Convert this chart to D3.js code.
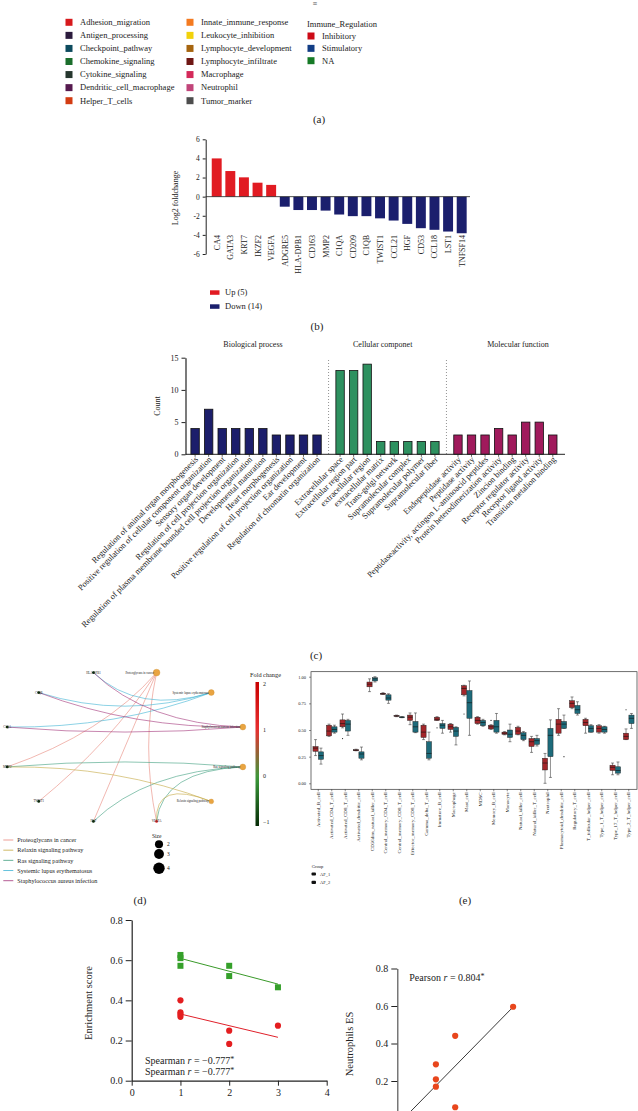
<!DOCTYPE html>
<html><head><meta charset="utf-8">
<script src="https://cdn.jsdelivr.net/npm/d3@7"></script>
<style>
html,body{margin:0;padding:0;background:#fff;}
svg{display:block;font-family:"Liberation Serif","Times New Roman",serif;}
</style></head><body>
<svg id="c" width="638" height="1111"></svg>
<script>
// ---------- (a) legend ----------
const legendCats = ["Adhesion_migration","Antigen_processing","Checkpoint_pathway","Chemokine_signaling","Cytokine_signaling","Dendritic_cell_macrophage","Helper_T_cells","Innate_immune_response","Leukocyte_inhibition","Lymphocyte_development","Lymphocyte_infiltrate","Macrophage","Neutrophil","Tumor_marker"];
const legendColors = ["#d7191c","#2b1b3d","#0d4b5e","#1b6e2c","#26372e","#561a4f","#d33c12","#f47a20","#f2d20a","#a6650f","#6f1714","#d42a5a","#c1457a","#4d4d4d"];
const immuneRegs = ["Inhibitory","Stimulatory","NA"];
const immuneRegColors = ["#cc0a16","#123d85","#167a26"];

// ---------- (b) ----------
const genes = ["CA4","GATA3","KRT7","IKZF2","VEGFA","ADGRE5","HLA-DPB1","CD163","MMP2","C1QA","CD209","C1QB","TWIST1","CCL21","HGF","CD53","CCL18","LST1","TNFSF14"];
const log2fc = [4.0,2.68,2.02,1.46,1.23,-1.05,-1.4,-1.4,-1.46,-1.87,-2.04,-2.04,-2.27,-2.5,-2.85,-3.3,-3.47,-3.65,-3.83];
const bTicks = [-6,-4,-2,0,2,4,6];
const bLegend = ["Up (5)","Down (14)"];

// ---------- (c) ----------
const goGroups = ["Biological process","Cellular componet","Molecular function"];
const bpTerms = ["Regulation of animal organ morphogenesis","Positive regulation of cellular component organization","Sensory organ development","Regulation of cell projection organization","Regulation of plasma membrane bounded cell projection organization","Developmental maturation","Heart morphogenesis","Positive regulation of cell projection organization","Ear development","Regulation of chromatin organization"];
const bpCounts = [4,7,4,4,4,4,3,3,3,3];
const ccTerms = ["Extracellular space","Extracellular region part","extracellular region","extracellular matrix","Trans-golgi network","Supramolecular complex","Supramolecular polymer","Supramolecular fiber"];
const ccCounts = [13,13,14,2,2,2,2,2];
const mfTerms = ["Endopeptidase activity","Peptidase activity","Peptidaseactivity, actingon L-aminoacid peptides","Protein heterodimerization activity","Zincion binding","Receptor regulator activity","Receptor ligand activity","Transition metalion binding"];
const mfCounts = [3,3,3,4,3,5,5,3];
const cTicks = [0,5,10,15];

// ---------- (d) ----------
const pathways = ["Proteoglycans in cancer","Systemic lupus erythematosus","Staphylococcus aureus infection","Ras signaling pathway","Relaxin signaling pathway"];
const pathwaySizes = [4,3,3,3,2];
const legendPathways = ["Proteoglycans in cancer","Relaxin signaling pathway","Ras signaling pathway","Systemic lupus erythematosus","Staphylococcus aureus infection"];
const legendPathwayColors = ["#e8877c","#c4a840","#3f9e7e","#3db3d3","#a23479"];
const netGenes = ["VEGFA","HGF","TWIST1","MMP2","C1QA","C1QB","HLA-DPB1"];
const netGeneFC = [1.23,-2.85,-2.27,-1.46,-1.87,-2.04,-1.4];
const netEdges = [
  ["Proteoglycans in cancer","VEGFA"],["Proteoglycans in cancer","HGF"],["Proteoglycans in cancer","TWIST1"],["Proteoglycans in cancer","MMP2"],
  ["Systemic lupus erythematosus","C1QA"],["Systemic lupus erythematosus","C1QB"],["Systemic lupus erythematosus","HLA-DPB1"],
  ["Staphylococcus aureus infection","C1QA"],["Staphylococcus aureus infection","C1QB"],["Staphylococcus aureus infection","HLA-DPB1"],
  ["Ras signaling pathway","VEGFA"],["Ras signaling pathway","HGF"],["Ras signaling pathway","MMP2"],
  ["Relaxin signaling pathway","VEGFA"],["Relaxin signaling pathway","MMP2"]
];
const fcTicks = [-1,0,1,2];
const sizeTicks = [2,3,4];

// ---------- (e) ----------
const cellTypes = ["Activated_B_cell","Activated_CD4_T_cell","Activated_CD8_T_cell","Activated_dendritic_cell","CD56dim_natural_killer_cell","Central_memory_CD4_T_cell","Central_memory_CD8_T_cell","Effector_memory_CD8_T_cell","Gamma_delta_T_cell","Immature_B_cell","Macrophage","Mast_cell","MDSC","Memory_B_cell","Monocyte","Natural_killer_cell","Natural_killer_T_cell","Neutrophil","Plasmacytoid_dendritic_cell","Regulatory_T_cell","T_follicular_helper_cell","Type_1_T_helper_cell","Type_17_T_helper_cell","Type_2_T_helper_cell"];
// [min, q1, median, q3, max]
const af1Stats = [
 [0.26,0.30,0.33,0.345,0.41],[0.44,0.445,0.49,0.545,0.555],[0.52,0.53,0.56,0.595,0.65],[0.305,0.305,0.31,0.315,0.32],
 [0.86,0.905,0.93,0.95,0.98],[0.835,0.835,0.84,0.845,0.85],[0.625,0.628,0.632,0.636,0.64],[0.55,0.59,0.62,0.64,0.66],
 [0.41,0.43,0.48,0.545,0.555],[0.59,0.59,0.60,0.62,0.625],[0.48,0.505,0.53,0.555,0.56],[0.82,0.83,0.89,0.915,0.92],
 [0.555,0.56,0.59,0.62,0.625],[0.505,0.51,0.53,0.545,0.55],[0.455,0.46,0.47,0.48,0.485],[0.455,0.46,0.49,0.525,0.535],
 [0.29,0.345,0.39,0.42,0.44],[0.0,0.125,0.19,0.235,0.28],[0.45,0.47,0.555,0.60,0.70],[0.70,0.71,0.75,0.775,0.81],
 [0.47,0.54,0.57,0.60,0.61],[0.47,0.48,0.515,0.54,0.55],[0.08,0.12,0.15,0.17,0.19],[0.41,0.41,0.44,0.47,0.51]
];
const af2Stats = [
 [0.18,0.225,0.26,0.295,0.33],[0.47,0.48,0.505,0.53,0.545],[0.45,0.49,0.555,0.59,0.60],[0.22,0.235,0.275,0.295,0.34],
 [0.95,0.96,0.98,0.99,1.0],[0.75,0.78,0.80,0.83,0.84],[0.615,0.617,0.62,0.623,0.625],[0.475,0.48,0.53,0.58,0.66],
 [0.22,0.235,0.28,0.39,0.48],[0.47,0.515,0.545,0.56,0.59],[0.36,0.44,0.49,0.525,0.53],[0.45,0.61,0.756,0.87,0.96],
 [0.535,0.54,0.57,0.59,0.60],[0.47,0.48,0.53,0.59,0.655],[0.39,0.43,0.46,0.50,0.555],[0.40,0.41,0.45,0.475,0.485],
 [0.35,0.365,0.40,0.42,0.45],[0.055,0.25,0.45,0.515,0.595],[0.515,0.515,0.555,0.58,0.64],[0.64,0.655,0.69,0.73,0.765],
 [0.48,0.48,0.515,0.54,0.55],[0.47,0.48,0.505,0.53,0.535],[0.08,0.095,0.12,0.155,0.20],[0.515,0.56,0.61,0.64,0.655]
];
const boxOutliers = [["Activated_CD8_T_cell","AF_1",0.42],["Immature_B_cell","AF_1",0.52],["Mast_cell","AF_1",0.65],["Memory_B_cell","AF_1",0.59],["Plasmacytoid_dendritic_cell","AF_2",0.25],["Type_2_T_helper_cell","AF_1",0.69]];
const groups = ["AF_1","AF_2"];
const groupColors = ["#a3262a","#1d6b7b"];
const eTicks = [0,0.25,0.5,0.75,1];

// ---------- (f) ----------
const esGreenX = [1,1,1,2,2,3];
const esGreenY = [0.626,0.61,0.572,0.572,0.521,0.465];
const esRedX = [1,1,1,1,2,2,3];
const esRedY = [0.40,0.34,0.33,0.318,0.249,0.183,0.274];
const esGreenFit = [[1,0.609],[3,0.481]];
const esRedFit = [[1,0.332],[3,0.216]];
const fYTicks = [0,0.2,0.4,0.6,0.8];
const fXTicks = [0,1,2,3,4];

// ---------- (g) ----------
const neutX = [0.6,0.3,0.2,0.2,0.2,0.3];
const neutY = [0.596,0.441,0.289,0.209,0.17,0.06];
const neutFit = [[0.05,0.0175],[0.6,0.595]];
const gYTicks = [0.2,0.4,0.6,0.8];

// =====================================================
const SERIF = '"Liberation Serif","Times New Roman",serif';
const svg = d3.select("#c");
svg.append("rect").attr("width",638).attr("height",1111).attr("fill","#fff");

function styleAxis(g, fs){
  g.selectAll("text").attr("font-family",SERIF).attr("font-size",fs).attr("fill","#222");
  g.selectAll("line,path").attr("stroke","#222");
}
function caption(txt,x,y){
  svg.append("text").attr("x",x).attr("y",y).attr("text-anchor","middle").attr("font-size",11).attr("fill","#222").text(txt);
}

// ---------- (a) ----------
svg.append("text").attr("x",315).attr("y",6).attr("font-size",8).attr("fill","#555").attr("text-anchor","middle").text("≡");
const gA = svg.append("g");
const aRow = d3.scaleLinear().domain([0,6]).range([22.3,100.7]);
const aColX = [69,190];
legendCats.forEach((c,i)=>{
  const col = Math.floor(i/7), row = i%7;
  const x = aColX[col], y = aRow(row);
  gA.append("rect").attr("x",x-3.5).attr("y",y-3.5).attr("width",7).attr("height",7).attr("fill",legendColors[i]);
  gA.append("text").attr("x",x+11).attr("y",y).attr("dy","0.33em").attr("font-size",8.5).attr("fill","#222").text(c);
});
gA.append("text").attr("x",307).attr("y",24).attr("dy","0.33em").attr("font-size",8.5).attr("fill","#222").text("Immune_Regulation");
const aRow3 = d3.scaleLinear().domain([0,2]).range([36,60.7]);
immuneRegs.forEach((c,i)=>{
  const y = aRow3(i);
  gA.append("rect").attr("x",307.5).attr("y",y-3.5).attr("width",7).attr("height",7).attr("fill",immuneRegColors[i]);
  gA.append("text").attr("x",322).attr("y",y).attr("dy","0.33em").attr("font-size",8.5).attr("fill","#222").text(c);
});
caption("(a)",319,123);

// ---------- (b) ----------
const gB = svg.append("g");
const bx = d3.scaleBand().domain(genes).range([209.9,468.5]).paddingInner(0.27).paddingOuter(0.135);
const by = d3.scaleLinear().domain([-6,6]).range([254,139.3]);
gB.selectAll("rect.bar").data(genes).join("rect")
  .attr("x",d=>bx(d)).attr("width",bx.bandwidth())
  .attr("y",(d,i)=>by(Math.max(0,log2fc[i])))
  .attr("height",(d,i)=>Math.abs(by(log2fc[i])-by(0)))
  .attr("fill",(d,i)=>log2fc[i]>0?"#e11b22":"#1b1f6d");
gB.append("line").attr("x1",205.7).attr("x2",470).attr("y1",by(0)).attr("y2",by(0)).attr("stroke","#222").attr("stroke-width",0.8);
const bAxis = gB.append("g").attr("transform","translate(205.7,0)")
  .call(d3.axisLeft(by).tickValues(bTicks).tickSize(3).tickSizeOuter(0).tickFormat(d=>String(d)));
styleAxis(bAxis,7.5);
gB.selectAll("text.gl").data(genes).join("text")
  .attr("transform",d=>`translate(${bx(d)+bx.bandwidth()/2+3},235) rotate(-90)`)
  .attr("text-anchor","end").attr("font-size",8).attr("fill","#222").text(d=>d);
gB.append("text").attr("transform","translate(178,198) rotate(-90)").attr("text-anchor","middle").attr("font-size",8).attr("fill","#222").text("Log2 foldchange");
bLegend.forEach((t,i)=>{
  const y = 292.3 + i*14;
  gB.append("rect").attr("x",210).attr("y",y-2).attr("width",9.5).attr("height",4.5).attr("fill",i===0?"#e11b22":"#1b1f6d");
  gB.append("text").attr("x",225).attr("y",y).attr("dy","0.35em").attr("font-size",8.5).attr("fill","#222").text(t);
});
caption("(b)",317,329.5);

// ---------- (c) ----------
const gC = svg.append("g");
const cItems = [];
bpTerms.forEach((t,i)=>cItems.push({t,v:bpCounts[i],g:0,k:i}));
ccTerms.forEach((t,i)=>cItems.push({t,v:ccCounts[i],g:1,k:bpTerms.length+i}));
mfTerms.forEach((t,i)=>cItems.push({t,v:mfCounts[i],g:2,k:bpTerms.length+ccTerms.length+i}));
const gap = 0.7;
const cx = d3.scaleLinear().domain([0,25+2*gap]).range([195.1,552.8]);
const pos = d=>cx(d.k + d.g*gap);
const cy = d3.scaleLinear().domain([0,15]).range([454.3,357.7]);
const cColors = ["#1c1e6b","#2e9160","#a01a5c"];
const bw = 8.4;
gC.selectAll("rect").data(cItems).join("rect")
  .attr("x",d=>pos(d)-bw/2).attr("width",bw)
  .attr("y",d=>cy(d.v)).attr("height",d=>cy(0)-cy(d.v))
  .attr("fill",d=>cColors[d.g]).attr("stroke","#111").attr("stroke-width",0.8);
const sepIdx = [bpTerms.length-1+(1+gap)/2, bpTerms.length+ccTerms.length-1+gap+(1+gap)/2];
sepIdx.forEach(s=>{
  gC.append("line").attr("x1",cx(s)).attr("x2",cx(s)).attr("y1",360).attr("y2",454).attr("stroke","#777").attr("stroke-width",0.8).attr("stroke-dasharray","1,2");
});
gC.append("line").attr("x1",185.5).attr("x2",565).attr("y1",cy(0)).attr("y2",cy(0)).attr("stroke","#222").attr("stroke-width",1);
gC.selectAll("line.tk").data(cItems).join("line").attr("class","tk")
  .attr("x1",d=>pos(d)).attr("x2",d=>pos(d)).attr("y1",cy(0)).attr("y2",cy(0)+2.5).attr("stroke","#222").attr("stroke-width",0.7);
const cAxis = gC.append("g").attr("transform","translate(185.5,0)")
  .call(d3.axisLeft(cy).tickValues(cTicks).tickSize(4).tickSizeOuter(0));
styleAxis(cAxis,8);
cAxis.select(".domain").attr("stroke-width",1.2);
gC.append("text").attr("transform","translate(160,406) rotate(-90)").attr("text-anchor","middle").attr("font-size",8).attr("fill","#222").text("Count");
const titleX = [253,382.7,518];
goGroups.forEach((g,i)=>gC.append("text").attr("x",titleX[i]).attr("y",347).attr("text-anchor","middle").attr("font-size",8).attr("fill","#222").text(g));
gC.selectAll("text.tl").data(cItems).join("text")
  .attr("transform",d=>`translate(${pos(d)+3.5},460) rotate(-45)`)
  .attr("text-anchor","end").attr("font-size",8.5).attr("fill","#222").text(d=>d.t);
caption("(c)",316,659);

// ---------- (d) ----------
const gD = svg.append("g");
const nodeNames = pathways.concat(netGenes);
const ang = d3.scaleLinear().domain([0,nodeNames.length]).range([285*Math.PI/180,(285+360)*Math.PI/180]);
const cen = [125,747], rx = 122, ry = 77;
const nodePos = {};
nodeNames.forEach((n,i)=>{ nodePos[n] = [cen[0]+rx*Math.cos(ang(i)), cen[1]+ry*Math.sin(ang(i))]; });
const edgeColor = d3.scaleOrdinal().domain(legendPathways).range(legendPathwayColors);
const fcColor = d3.scaleLinear().domain([-1,0,1,2]).range(["#062b06","#3a9a3a","#e83030","#c80000"]).clamp(true);
gD.selectAll("path.edge").data(netEdges).join("path")
  .attr("d",e=>{
    const a = nodePos[e[0]], b = nodePos[e[1]];
    const mx=(a[0]+b[0])/2, my=(a[1]+b[1])/2;
    const k=0.5; const qx = mx + k*(cen[0]-mx), qy = my + k*(cen[1]-my);
    return `M${a[0]},${a[1]} Q${qx},${qy} ${b[0]},${b[1]}`;
  })
  .attr("fill","none").attr("stroke",e=>edgeColor(e[0])).attr("stroke-width",0.7).attr("stroke-opacity",0.85);
const sizeR = d3.scaleSqrt().domain([0,4]).range([0,5.7]);
pathways.forEach((p,i)=>{
  const [x,y] = nodePos[p];
  gD.append("circle").attr("cx",x).attr("cy",y).attr("r",sizeR(pathwaySizes[i])*0.6).attr("fill","#e9a441").attr("stroke","#c8872a").attr("stroke-width",0.3);
  gD.append("text").attr("x",x-2.5).attr("y",y).attr("dy","0.35em").attr("text-anchor","end").attr("font-size",3).attr("fill","#222").text(p);
});
netGenes.forEach((g,i)=>{
  const [x,y] = nodePos[g];
  gD.append("circle").attr("cx",x).attr("cy",y).attr("r",1.4).attr("fill",fcColor(netGeneFC[i]));
  gD.append("text").attr("x",x).attr("y",y).attr("dy","0.35em").attr("text-anchor","middle").attr("font-size",3).attr("fill","#222").text(g);
});
const fcY = d3.scaleLinear().domain([-1,2]).range([822,684]);
const grad = svg.append("defs").append("linearGradient").attr("id","fcg").attr("x1",0).attr("x2",0).attr("y1",1).attr("y2",0);
d3.range(0,1.0001,0.05).forEach(t=>grad.append("stop").attr("offset",t).attr("stop-color",fcColor(-1+3*t)));
gD.append("rect").attr("x",255.5).attr("y",fcY(2)-2).attr("width",3.5).attr("height",fcY(-1)-fcY(2)+6).attr("fill","url(#fcg)");
fcTicks.forEach(t=>gD.append("text").attr("x",263).attr("y",fcY(t)).attr("dy","0.35em").attr("font-size",6).attr("fill","#222").text(t===-1?"−1":String(t)));
gD.append("text").attr("x",250).attr("y",677).attr("font-size",6.3).attr("fill","#222").text("Fold change");
const dLegY = d3.scaleLinear().domain([0,4]).range([840,880.7]);
legendPathways.forEach((p,i)=>{
  const y = dLegY(i);
  gD.append("line").attr("x1",3.3).attr("x2",13.3).attr("y1",y).attr("y2",y).attr("stroke",legendPathwayColors[i]).attr("stroke-width",0.8);
  gD.append("text").attr("x",17.3).attr("y",y).attr("dy","0.35em").attr("font-size",6.2).attr("fill","#222").text(p);
});
gD.append("text").attr("x",152).attr("y",838).attr("font-size",5.5).attr("fill","#222").text("Size");
const sizeLegY = [844.3,854,868.3];
sizeTicks.forEach((s,i)=>{
  gD.append("circle").attr("cx",159).attr("cy",sizeLegY[i]).attr("r",sizeR(s)).attr("fill","#000");
  gD.append("text").attr("x",167).attr("y",sizeLegY[i]).attr("dy","0.35em").attr("font-size",5.5).attr("fill","#222").text(s);
});
caption("(d)",140,904);

// ---------- (e) ----------
const gE = svg.append("g");
const ex = d3.scaleBand().domain(cellTypes).range([311.5,635.5]);
const eg = d3.scaleBand().domain(groups).range([-5.3,5.3]).paddingInner(0.05);
const ey = d3.scaleLinear().domain([0,1]).range([783.3,676.7]);
gE.append("rect").attr("x",311).attr("y",671.7).attr("width",326).attr("height",117.6).attr("fill","none").attr("stroke","#333").attr("stroke-width",0.7);
const boxes = [];
cellTypes.forEach((c,i)=>{ boxes.push({c,g:"AF_1",s:af1Stats[i]}); boxes.push({c,g:"AF_2",s:af2Stats[i]}); });
const bxw = eg.bandwidth();
boxes.forEach(b=>{
  const x0 = ex(b.c)+ex.bandwidth()/2 + eg(b.g), xc = x0 + bxw/2;
  const s = b.s, col = groupColors[groups.indexOf(b.g)];
  gE.append("line").attr("x1",xc).attr("x2",xc).attr("y1",ey(s[0])).attr("y2",ey(s[4])).attr("stroke","#222").attr("stroke-width",0.5);
  [s[0],s[4]].forEach(v=>gE.append("line").attr("x1",xc-1.5).attr("x2",xc+1.5).attr("y1",ey(v)).attr("y2",ey(v)).attr("stroke","#222").attr("stroke-width",0.5));
  gE.append("rect").attr("x",x0).attr("width",bxw).attr("y",ey(s[3])).attr("height",Math.max(0.8,ey(s[1])-ey(s[3]))).attr("fill",col).attr("stroke","#222").attr("stroke-width",0.45);
  gE.append("line").attr("x1",x0).attr("x2",x0+bxw).attr("y1",ey(s[2])).attr("y2",ey(s[2])).attr("stroke","#111").attr("stroke-width",0.6);
});
boxOutliers.forEach(o=>{
  const xc = ex(o[0])+ex.bandwidth()/2+eg(o[1])+bxw/2;
  gE.append("circle").attr("cx",xc).attr("cy",ey(o[2])).attr("r",0.6).attr("fill","#222");
});
const eYAxis = gE.append("g").attr("transform","translate(311,0)")
  .call(d3.axisLeft(ey).tickValues(eTicks).tickSize(2).tickSizeOuter(0).tickFormat(d3.format(".2f")));
styleAxis(eYAxis,4.5); eYAxis.select(".domain").remove();
eYAxis.selectAll("line").attr("stroke-width",0.5);
const eXAxis = gE.append("g").attr("transform","translate(0,789.3)")
  .call(d3.axisBottom(ex).tickSize(2).tickSizeOuter(0));
styleAxis(eXAxis,5); eXAxis.select(".domain").remove();
eXAxis.selectAll("line").attr("stroke-width",0.5);
eXAxis.selectAll("text").attr("transform","translate(1.7,3) rotate(-90)").attr("text-anchor","end").attr("dy",0).attr("x",0).attr("y",0);
gE.append("text").attr("x",311.7).attr("y",868).attr("font-size",4.5).attr("fill","#222").text("Group");
groups.forEach((g,i)=>{
  const y = 874 + i*8.3;
  gE.append("rect").attr("x",311.5).attr("y",y-1.6).attr("width",4.5).attr("height",3.2).attr("rx",1).attr("fill","#111");
  gE.append("text").attr("x",320).attr("y",y).attr("dy","0.35em").attr("font-size",4.5).attr("fill","#222").text(g);
});
caption("(e)",465,904);

// ---------- (f) ----------
const gF = svg.append("g");
const fx = d3.scaleLinear().domain([0,4]).range([131.7,326.7]);
const fy = d3.scaleLinear().domain([0,0.8]).range([1080.7,920]);
const fYAxis = gF.append("g").attr("transform","translate(131.7,0)").call(d3.axisLeft(fy).tickValues(fYTicks).tickSize(6).tickSizeOuter(0).tickFormat(d3.format(".1f")));
styleAxis(fYAxis,10);
const fXAxis = gF.append("g").attr("transform","translate(0,1080.7)").call(d3.axisBottom(fx).tickValues(fXTicks).tickSize(5).tickSizeOuter(0).tickFormat(d3.format("d")));
styleAxis(fXAxis,10);
gF.selectAll(".domain").attr("stroke-width",1.2);
const lineF = d3.line().x(d=>fx(d[0])).y(d=>fy(d[1]));
gF.append("path").attr("d",lineF(esGreenFit)).attr("stroke","#3a9a2a").attr("stroke-width",1).attr("fill","none");
gF.append("path").attr("d",lineF(esRedFit)).attr("stroke","#e0202a").attr("stroke-width",1).attr("fill","none");
esGreenX.forEach((x,i)=>gF.append("rect").attr("x",fx(x)-3).attr("y",fy(esGreenY[i])-3).attr("width",6).attr("height",6).attr("fill","#35a02a"));
esRedX.forEach((x,i)=>gF.append("circle").attr("cx",fx(x)).attr("cy",fy(esRedY[i])).attr("r",3.1).attr("fill","#e41e20"));
gF.append("text").attr("transform","translate(92,1003) rotate(-90)").attr("text-anchor","middle").attr("font-size",10.5).attr("fill","#222").text("Enrichment score");
[1063.5,1075.2].forEach(y=>{
  const t = gF.append("text").attr("x",145).attr("y",y).attr("font-size",10).attr("fill","#222");
  t.append("tspan").text("Spearman ");
  t.append("tspan").attr("font-style","italic").text("r");
  t.append("tspan").text(" = −0.777");
  t.append("tspan").attr("dy",-2).attr("font-size",8).text("*");
});

// ---------- (g) ----------
const gG = svg.append("g");
const gx = d3.scaleLinear().domain([0,1]).range([397.3,590.3]);
const gy = d3.scaleLinear().domain([0,0.8]).range([1118.5,968.5]);
const gYAxis = gG.append("g").attr("transform","translate(397.3,0)").call(d3.axisLeft(gy).tickValues(gYTicks).tickSize(6).tickSizeOuter(0).tickFormat(d3.format(".1f")));
styleAxis(gYAxis,10);
gYAxis.select(".domain").attr("stroke-width",1.2).attr("stroke","#555");
const lineG = d3.line().x(d=>gx(d[0])).y(d=>gy(d[1]));
gG.append("path").attr("d",lineG(neutFit)).attr("stroke","#222").attr("stroke-width",0.9).attr("fill","none");
neutX.forEach((x,i)=>gG.append("circle").attr("cx",gx(x)).attr("cy",gy(neutY[i])).attr("r",3.1).attr("fill","#e8461c"));
gG.append("text").attr("transform","translate(353,1044) rotate(-90)").attr("text-anchor","middle").attr("font-size",10.5).attr("fill","#222").text("Neutrophils ES");
const pt = gG.append("text").attr("x",409.3).attr("y",981).attr("font-size",10).attr("fill","#222");
pt.append("tspan").text("Pearson ");
pt.append("tspan").attr("font-style","italic").text("r");
pt.append("tspan").text(" = 0.804");
pt.append("tspan").attr("dy",-2).attr("font-size",8).text("*");
</script></body></html>
